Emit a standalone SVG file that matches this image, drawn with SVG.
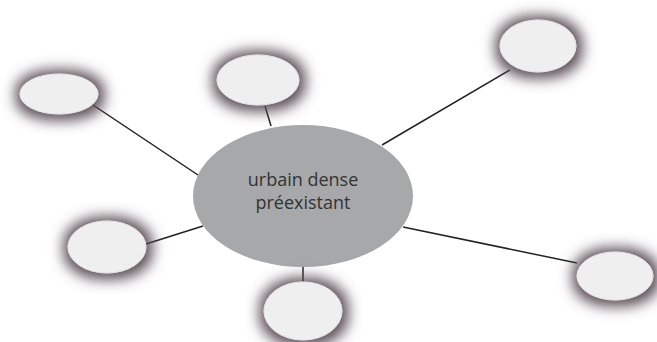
<svg xmlns="http://www.w3.org/2000/svg" width="657" height="342" viewBox="0 0 657 342">
<style>
.bg{fill:#ffffff}
.sat{fill:#efeff0;stroke:#e6e4e6;stroke-width:1;filter:url(#glow)}
.hub{fill:#a7a8aa}
.conn{stroke:#222222;stroke-width:1.5;fill:none}
.lbl{font-family:"Open Sans","Noto Sans",sans-serif;font-size:18px;fill:#333333;text-anchor:middle}
</style>
<defs>
<filter id="glow" x="-60%" y="-80%" width="220%" height="260%">
<feMorphology in="SourceAlpha" operator="dilate" radius="5" result="d"/>
<feGaussianBlur in="d" stdDeviation="7" result="b"/>
<feOffset in="b" dx="1" dy="1" result="o"/>
<feFlood flood-color="#5a4c53" flood-opacity="1"/>
<feComposite in2="o" operator="in" result="s"/>
<feMerge><feMergeNode in="s"/><feMergeNode in="SourceGraphic"/></feMerge>
</filter>
</defs>
<rect class="bg" x="0" y="0" width="657" height="342"/>
<g id="connectors">
<line class="conn" x1="90" y1="103" x2="198" y2="175"/>
<line class="conn" x1="265" y1="106" x2="271" y2="126"/>
<line class="conn" x1="382" y1="145" x2="510" y2="70"/>
<line class="conn" x1="146" y1="244" x2="203" y2="226"/>
<line class="conn" x1="303" y1="265" x2="303" y2="283"/>
<line class="conn" x1="403" y1="227" x2="577" y2="263"/>
</g>
<g id="hub">
<ellipse class="hub" cx="303" cy="196" rx="110" ry="71"/>
<text class="lbl" x="303" y="186">urbain dense</text>
<text class="lbl" x="303" y="209">préexistant</text>
</g>
<g id="node-topleft"><ellipse class="sat" cx="59" cy="94" rx="39" ry="20"/></g>
<g id="node-top"><ellipse class="sat" cx="258" cy="80" rx="41" ry="25"/></g>
<g id="node-topright"><ellipse class="sat" cx="538" cy="46" rx="38" ry="26"/></g>
<g id="node-left"><ellipse class="sat" cx="107" cy="247" rx="39" ry="26"/></g>
<g id="node-bottom"><ellipse class="sat" cx="303" cy="311" rx="39" ry="29"/></g>
<g id="node-right"><ellipse class="sat" cx="615" cy="276" rx="38" ry="24"/></g>
</svg>
